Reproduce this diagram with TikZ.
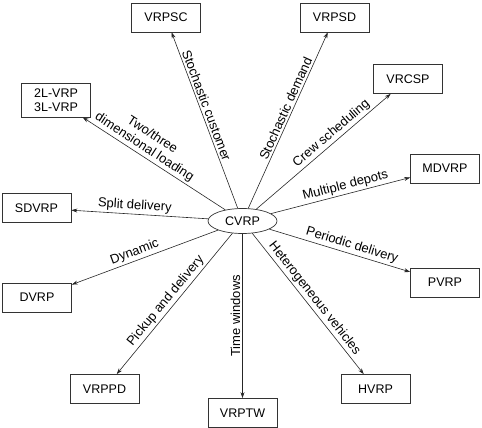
\documentclass[tikz,border=0pt]{standalone}
\usepackage{fontspec}
\setmainfont{Liberation Sans}
\usetikzlibrary{arrows.meta,shapes.geometric}

\tikzset{
  vrpbox/.style={draw=black!80, line width=0.7pt, minimum width=69pt, minimum height=29pt,
    inner sep=2pt, font=\fontsize{12.5}{14}\selectfont, align=center},
  vrparrow/.style={draw=black!85, line width=0.6pt, -{Stealth[length=6pt,width=4pt]}},
  vrplabel/.style={sloped, above, inner sep=2pt, font=\fontsize{13}{14.5}\selectfont, align=center}
}

\begin{document}
\begin{tikzpicture}[x=1pt, y={(0pt,-1pt)}]
  \useasboundingbox (0,0) rectangle (482,428);

  % The centre
  \node[draw=black!80, line width=0.7pt, ellipse, minimum width=69pt, minimum height=25pt,
    inner sep=0pt, font=\fontsize{12.5}{14}\selectfont] (cvrp) at (242.5,221) {CVRP};

  % The variants
  \node[vrpbox] (vrpsc) at (166,17.5) {VRPSC};
  \node[vrpbox] (vrpsd) at (334.5,17.5) {VRPSD};
  \node[vrpbox, minimum height=34pt] (twol) at (56,100) {2L-VRP\\3L-VRP};
  \node[vrpbox] (vrcsp) at (408,79) {VRCSP};
  \node[vrpbox] (mdvrp) at (445,168.5) {MDVRP};
  \node[vrpbox] (sdvrp) at (36.5,208) {SDVRP};
  \node[vrpbox] (dvrp) at (37,297.5) {DVRP};
  \node[vrpbox] (vrppd) at (104.5,389) {VRPPD};
  \node[vrpbox] (vrptw) at (242.5,413) {VRPTW};
  \node[vrpbox] (hvrp) at (375.5,389) {HVRP};
  \node[vrpbox] (pvrp) at (445,282.5) {PVRP};

  % Arrows with their labels
  \draw[vrparrow] (cvrp) -- node[vrplabel, pos=0.57] {Stochastic customer} (vrpsc);
  \draw[vrparrow] (cvrp) -- node[vrplabel, pos=0.55] {Stochastic demand} (vrpsd);
  \draw[vrparrow] (cvrp) -- node[vrplabel, pos=0.6] {Two/three\\dimensional loading} (twol);
  \draw[vrparrow] (cvrp) -- node[vrplabel, pos=0.6] {Crew scheduling} (vrcsp);
  \draw[vrparrow] (cvrp) -- node[vrplabel, pos=0.55] {Multiple depots} (mdvrp);
  \draw[vrparrow] (cvrp) -- node[vrplabel, pos=0.54] {Split delivery} (sdvrp);
  \draw[vrparrow] (cvrp) -- node[vrplabel, pos=0.55] {Dynamic} (dvrp);
  \draw[vrparrow] (cvrp) -- node[vrplabel, pos=0.52] {Pickup and delivery} (vrppd);
  \draw[vrparrow] (cvrp) -- node[pos=0.5, rotate=90, above, inner sep=2pt,
    font=\fontsize{13}{14.5}\selectfont] {Time windows} (vrptw);
  \draw[vrparrow] (cvrp) -- node[vrplabel, pos=0.5] {Heterogeneous vehicles} (hvrp);
  \draw[vrparrow] (cvrp) -- node[vrplabel, pos=0.57] {Periodic delivery} (pvrp);
\end{tikzpicture}
\end{document}
